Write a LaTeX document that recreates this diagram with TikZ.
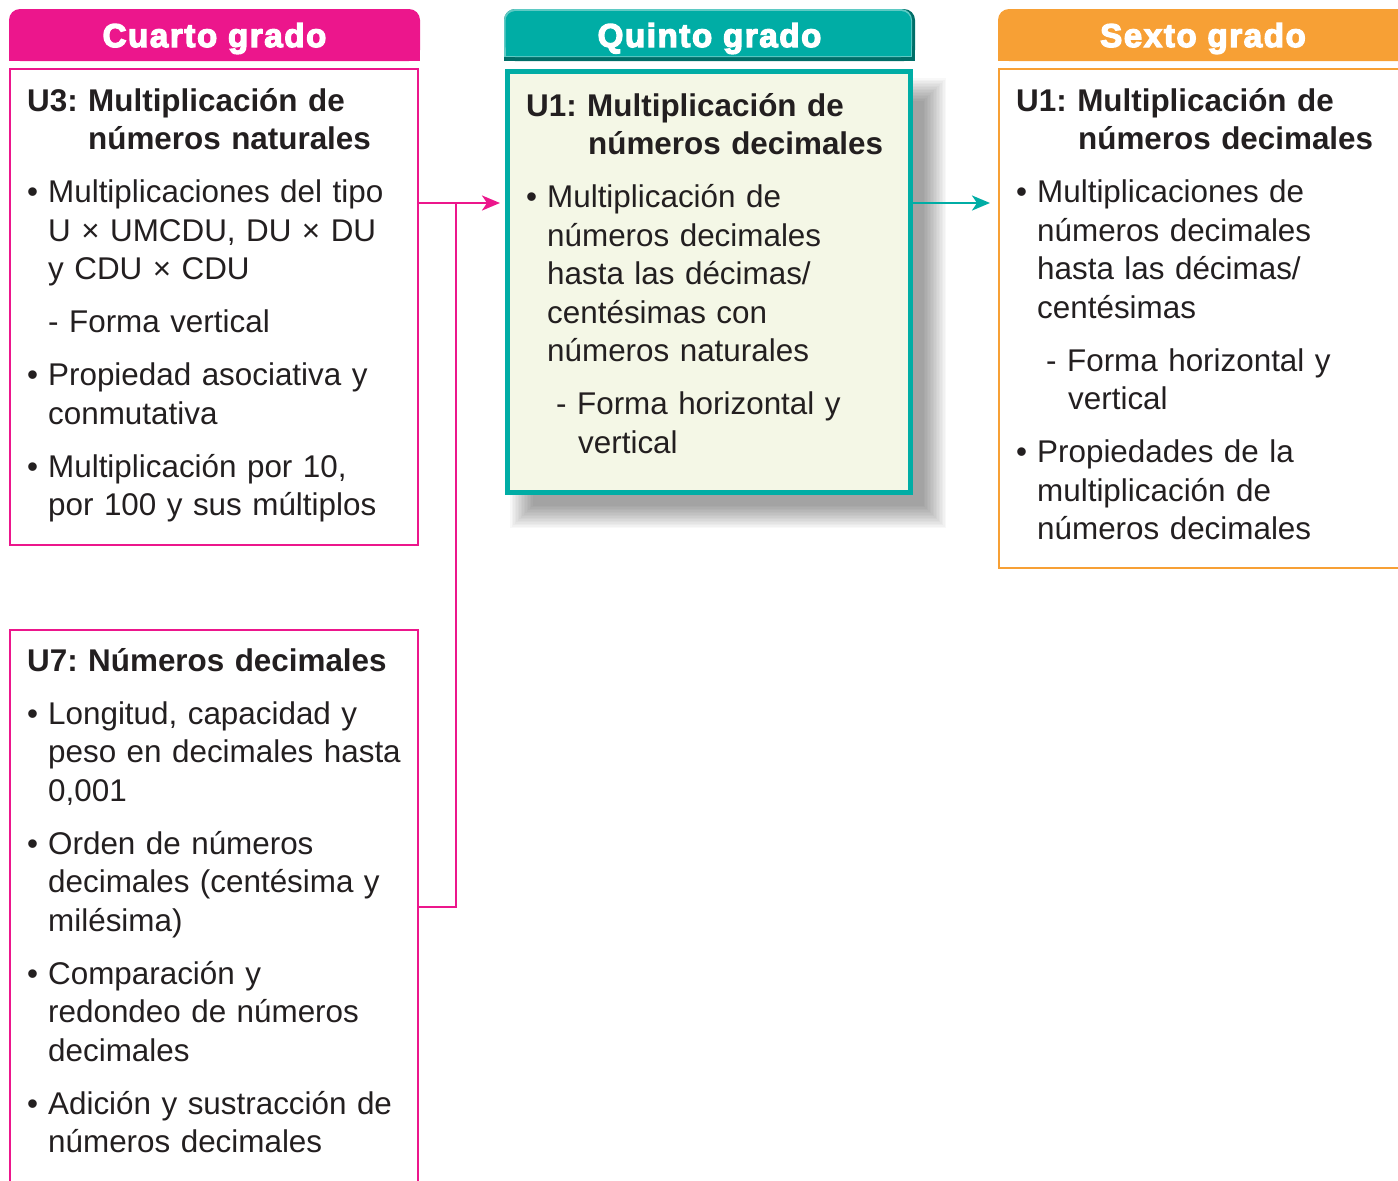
\documentclass[tikz,border=0pt]{standalone}
\usepackage{fontspec}
\setmainfont{Liberation Sans}
\newfontfamily\headfont{Liberation Sans Bold}[FakeBold=4,LetterSpace=5]
\usetikzlibrary{arrows.meta}
\definecolor{mag}{HTML}{EC168C}
\definecolor{tealc}{HTML}{00ADA5}
\definecolor{tealdk}{HTML}{006E68}
\definecolor{teallt}{HTML}{5FCAC4}
\definecolor{orangec}{HTML}{F7A035}
\definecolor{beige}{HTML}{F4F7E6}
\definecolor{textc}{HTML}{231F20}
\newcommand{\bul}{\makebox[21pt][l]{•}}
\newcommand{\ind}{\hspace*{21pt}}
\newcommand{\gap}{\par\vspace{14.5pt}}
\frenchspacing
\begin{document}
\begin{tikzpicture}[x=1pt,y=-1pt,
  txt/.style={anchor=base west, text width=440pt, inner sep=0pt, align=left,
    font=\frenchspacing\fontsize{31.4pt}{38.5pt}\selectfont, text=textc},
  headtxt/.style={anchor=base, inner sep=0pt, text=white,
    font=\headfont\fontsize{33pt}{36pt}\selectfont},
  boxthin/.style={draw=#1, line width=2pt, fill=white, anchor=north west, inner sep=0pt},
  arr/.style={-{Stealth[length=18pt,width=15pt,inset=5pt]}},
  conn/.style={line width=2.5pt, draw=#1}]
\useasboundingbox (0,0) rectangle (1398,1181);
\clip (0,0) rectangle (1398,1181);

% ---------- headers ----------
\fill[mag, rounded corners=11pt] (9,9) rectangle (420,61);
\fill[mag] (9,35) rectangle (420,61);
\node[headtxt] (h4) at (214.5,47) {Cuarto grado};

\fill[tealdk, rounded corners=11pt] (504,9) rectangle (915,61);
\fill[tealdk] (504,35) rectangle (915,61);
\fill[teallt, rounded corners=11pt] (504,9) rectangle (912,57);
\fill[teallt] (504,35) rectangle (912,57);
\fill[tealc, rounded corners=10pt] (505.5,11) rectangle (911,56);
\fill[tealc] (505.5,35) rectangle (911,56);
\node[headtxt] (h5) at (709.5,47) {Quinto grado};

\fill[orangec, rounded corners=11pt] (998,9) rectangle (1420,61);
\fill[orangec] (998,35) rectangle (1420,61);
\node[headtxt] (h6) at (1203,47) {Sexto grado};

% ---------- boxes ----------
\node[boxthin=mag, minimum width=408pt, minimum height=476pt] (u3) at (9,68) {};
\node[boxthin=mag, minimum width=408pt, minimum height=620pt] (u7) at (9,629) {};
\node[boxthin=orangec, minimum width=420pt, minimum height=499pt] (s6) at (998,68) {};

% shadow of the middle box
\foreach \k in {0,...,15}
  \fill[black, opacity=0.028] (510+1.5*\k, 78+1.5*\k) rectangle (946-1.5*\k, 528-1.5*\k);
\node[draw=tealc, line width=5pt, fill=beige, anchor=north west, inner sep=0pt,
      minimum width=403pt, minimum height=421pt] (q5) at (505,69) {};

% ---------- texts ----------
\node[txt] (t3) at (27,111) {%
\textbf{U3: Multiplicación de}\\\hspace*{61pt}\textbf{números naturales}\gap
\bul Multiplicaciones del tipo\\\ind U × UMCDU, DU × DU\\\ind y CDU × CDU\gap
\ind - Forma vertical\gap
\bul Propiedad asociativa y\\\ind conmutativa\gap
\bul Multiplicación por 10,\\\ind por 100 y sus múltiplos};

\node[txt] (t7) at (27,671) {%
\textbf{U7: Números decimales}\gap
\bul Longitud, capacidad y\\\ind peso en decimales hasta\\\ind 0,001\gap
\bul Orden de números\\\ind decimales (centésima y\\\ind milésima)\gap
\bul Comparación y\\\ind redondeo de números\\\ind decimales\gap
\bul Adición y sustracción de\\\ind números decimales};

\node[txt] (t5) at (526,116) {%
\textbf{U1: Multiplicación de}\\\hspace*{62pt}\textbf{números decimales}\gap
\bul Multiplicación de\\\ind números decimales\\\ind hasta las décimas/\\\ind centésimas con\\\ind números naturales\gap
\hspace*{30pt}- Forma horizontal y\\\hspace*{52pt}vertical};

\node[txt] (t6) at (1016,111) {%
\textbf{U1: Multiplicación de}\\\hspace*{62pt}\textbf{números decimales}\gap
\bul Multiplicaciones de\\\ind números decimales\\\ind hasta las décimas/\\\ind centésimas\gap
\hspace*{30pt}- Forma horizontal y\\\hspace*{52pt}vertical\gap
\bul Propiedades de la\\\ind multiplicación de\\\ind números decimales};

% ---------- connectors ----------
\coordinate (jtop) at (456,203);
\coordinate (jbot) at (456,907);
\draw[conn=mag, arr, shorten >=5pt] (u3.east |- jtop) -- (q5.west |- jtop);
\draw[conn=mag] (u7.east |- jbot) -- (jbot) -- (jtop);
\draw[conn=tealc, arr, shorten >=8pt] (q5.east |- jtop) -- (s6.west |- jtop);
\end{tikzpicture}
\end{document}
